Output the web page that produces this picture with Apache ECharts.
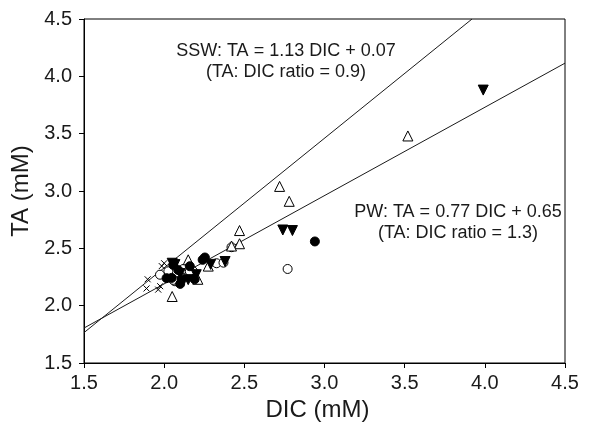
<!DOCTYPE html>
<html>
<head>
<meta charset="utf-8">
<script src="https://cdn.jsdelivr.net/npm/echarts@6/dist/echarts.min.js"></script>
<style>html,body{margin:0;padding:0;background:#fff;}#c{width:598px;height:431px;}</style>
</head>
<body>
<div id="c"></div>
<script>
// Axis ticks
const xTicks = [1.5, 2.0, 2.5, 3.0, 3.5, 4.0, 4.5];
const yTicks = [1.5, 2.0, 2.5, 3.0, 3.5, 4.0, 4.5];

// Data points [DIC, TA] (mM)
const openTriangles = [[2.72, 3.04], [2.78, 2.91], [3.52, 3.48], [2.47, 2.655], [2.47, 2.54], [2.42, 2.52], [2.15, 2.40], [2.275, 2.345], [2.21, 2.23], [2.05, 2.08]];
const filledDownTriangles = [[3.99, 3.88], [2.74, 2.66], [2.80, 2.655], [2.38, 2.385], [2.067, 2.358], [2.20, 2.27], [2.15, 2.227], [2.29, 2.36], [2.05, 2.37], [2.10, 2.28]];
const filledCircles = [[2.94, 2.56], [2.254, 2.42], [2.24, 2.40], [2.088, 2.31], [2.047, 2.242], [2.109, 2.227], [2.19, 2.23], [2.16, 2.344], [2.057, 2.355], [2.015, 2.24], [2.10, 2.19]];
const openCircles = [[2.77, 2.32], [2.42, 2.51], [2.327, 2.37], [2.37, 2.375], [2.18, 2.30], [2.12, 2.32], [2.026, 2.30], [1.974, 2.27], [2.067, 2.213], [2.16, 2.30], [2.057, 2.225]];
const crosses = [[2.0, 2.37], [1.985, 2.345], [1.897, 2.23], [1.89, 2.15], [1.975, 2.17], [1.963, 2.14]];

// Regression line endpoints [DIC, TA]
const sswLine = [[1.5, 1.765], [3.92, 4.5]];
const pwLine = [[1.5, 1.805], [4.5, 4.115]];

// Annotation texts
const sswText = ['SSW: TA = 1.13 DIC + 0.07', '(TA: DIC ratio = 0.9)'];
const pwText = ['PW: TA = 0.77 DIC + 0.65', '(TA: DIC ratio = 1.3)'];

const FONT = '"Liberation Sans", Arial, Helvetica, sans-serif';
const chart = echarts.init(document.getElementById('c'), null, {renderer: 'canvas'});

const axisCommon = {
  min: 1.5, max: 4.5, interval: 0.5,
  axisLine: {show: true, onZero: false, lineStyle: {color: '#000', width: 1}},
  axisTick: {show: true, inside: false, length: 5, lineStyle: {color: '#000', width: 1}},
  splitLine: {show: false},
  axisLabel: {color: '#1a1a1a', fontFamily: FONT, fontSize: 20, formatter: v => v.toFixed(1)},
  nameLocation: 'middle',
  nameTextStyle: {color: '#1a1a1a', fontFamily: FONT, fontSize: 24}
};

function markerSeries(data, symbol, size, fill, rotate, z) {
  return {
    type: 'scatter', data: data, symbol: symbol, symbolSize: size, symbolRotate: rotate || 0,
    itemStyle: {color: fill, borderColor: '#000', borderWidth: 1, opacity: 1},
    emphasis: {disabled: true}, z: z, silent: true
  };
}

function txt(x, y, s) {
  return {type: 'text', x: x, y: y, style: {text: s, fontFamily: FONT, fontSize: 18, fill: '#1a1a1a', align: 'center', verticalAlign: 'middle'}};
}

chart.setOption({
  animation: false,
  backgroundColor: '#fff',
  grid: {left: 84, right: 33, top: 19, bottom: 68, show: true, borderColor: '#000', borderWidth: 1, backgroundColor: 'transparent'},
  xAxis: Object.assign({}, axisCommon, {type: 'value', name: 'DIC (mM)', nameGap: 33,
    nameTextStyle: Object.assign({}, axisCommon.nameTextStyle, {padding: [0, 14, 0, 0]}),
    axisLabel: Object.assign({}, axisCommon.axisLabel, {margin: 10})}),
  yAxis: Object.assign({}, axisCommon, {type: 'value', name: 'TA (mM)', nameGap: 50,
    axisLabel: Object.assign({}, axisCommon.axisLabel, {margin: 12})}),
  graphic: [
    txt(286, 51, sswText[0]),
    txt(286, 72, sswText[1]),
    txt(458, 212, pwText[0]),
    txt(458, 233, pwText[1])
  ],
  series: [
    {type: 'line', data: sswLine, symbol: 'none', lineStyle: {color: '#1a1a1a', width: 1}, z: 1, silent: true},
    {type: 'line', data: pwLine, symbol: 'none', lineStyle: {color: '#1a1a1a', width: 1}, z: 1, silent: true},
    markerSeries(crosses, 'path://M0,0L10,10M10,0L0,10', 6, 'transparent', 0, 3),
    markerSeries(openCircles, 'circle', 9, '#fff', 0, 4),
    markerSeries(openTriangles, 'triangle', 10, '#fff', 0, 5),
    markerSeries(filledCircles, 'circle', 9, '#000', 0, 6),
    markerSeries(filledDownTriangles, 'triangle', 10, '#000', 180, 7)
  ]
});
</script>
</body>
</html>
